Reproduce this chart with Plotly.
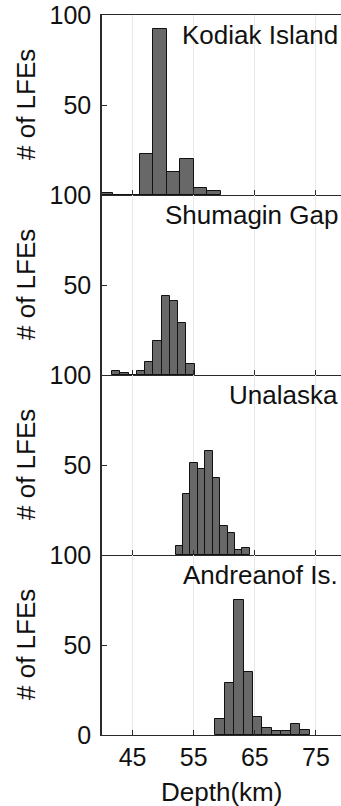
import plotly.graph_objects as go
from plotly.subplots import make_subplots

# LFE depth histograms per region: first bin edge (km), bin width (km), counts
regions = ["Kodiak Island", "Shumagin Gap", "Unalaska", "Andreanof Is."]
kodiak_start, kodiak_width = 39.51, 2.213
kodiak_counts = [1, 0, 0, 23, 92, 13, 20, 4, 2]
shumagin_start, shumagin_width = 41.67, 1.35
shumagin_counts = [2, 1, 0, 2, 7, 19, 44, 41, 29, 6]
unalaska_start, unalaska_width = 52.05, 1.213
unalaska_counts = [5, 34, 51, 48, 58, 43, 16, 12, 3, 4]
andreanof_start, andreanof_width = 58.49, 1.553
andreanof_counts = [9, 29, 75, 35, 10, 4, 2, 2, 6, 3]

x_ticks = [45, 55, 65, 75]
y_ticks = [0, 50, 100]

hists = [
    (kodiak_start, kodiak_width, kodiak_counts),
    (shumagin_start, shumagin_width, shumagin_counts),
    (unalaska_start, unalaska_width, unalaska_counts),
    (andreanof_start, andreanof_width, andreanof_counts),
]

FONT = "Liberation Sans, Arial, Helvetica, sans-serif"
TXT = "#111111"
AX = "#2a2a2a"
n = len(hists)

fig = make_subplots(rows=n, cols=1, shared_xaxes=True, vertical_spacing=0)

for i, (start, width, counts) in enumerate(hists, start=1):
    centers = [start + width * (k + 0.5) for k in range(len(counts))]
    fig.add_trace(
        go.Bar(
            x=centers,
            y=counts,
            width=[width] * len(counts),
            marker=dict(color="#686868", line=dict(color="#111111", width=1)),
            showlegend=False,
            hoverinfo="x+y",
        ),
        row=i, col=1,
    )
    # the zero label of an upper panel sits under the next panel's 100
    labels = [str(v) for v in y_ticks]
    if i < n:
        labels[0] = ""
    fig.update_yaxes(
        range=[0, 100], tickvals=y_ticks, ticktext=labels,
        showgrid=False, zeroline=False,
        showline=True, linecolor=AX, linewidth=1.5, mirror=False,
        ticks="inside", ticklen=5, tickcolor=AX,
        tickfont=dict(size=25, color=TXT, family=FONT),
        ticklabelstandoff=4,
        row=i, col=1,
    )
    fig.update_xaxes(
        range=[40, 79.1], tickvals=x_ticks,
        showgrid=True, gridcolor="#e8e8e8", gridwidth=1, zeroline=False,
        showline=True, linecolor=AX, linewidth=1.2, mirror=(i == 1),
        ticks="inside", ticklen=5, tickcolor=AX,
        showticklabels=(i == n),
        tickfont=dict(size=25, color=TXT, family=FONT),
        row=i, col=1,
    )
    ydom = "y domain" if i == 1 else f"y{i} domain"
    # region name in the upper right corner of each panel
    fig.add_annotation(
        text=regions[i - 1], xref="paper", yref=ydom, x=1, y=1,
        xanchor="right", yanchor="top", xshift=-1, yshift=-3,
        showarrow=False, font=dict(size=26, color=TXT, family=FONT),
    )
    # y-axis title for each panel
    fig.add_annotation(
        text="# of LFEs", xref="paper", yref=ydom, x=0, y=0.5,
        xanchor="center", yanchor="middle", xshift=-76, textangle=-90,
        showarrow=False, font=dict(size=26, color=TXT, family=FONT),
    )

fig.add_annotation(
    text="Depth(km)", xref="paper", yref="paper", x=0.5, y=0,
    xanchor="center", yanchor="middle", yshift=-57,
    showarrow=False, font=dict(size=26, color=TXT, family=FONT),
)

fig.update_layout(
    width=341, height=806,
    margin=dict(l=102, r=0, t=15, b=71),
    paper_bgcolor="white", plot_bgcolor="white",
    bargap=0,
)

fig.write_html("out.html")
